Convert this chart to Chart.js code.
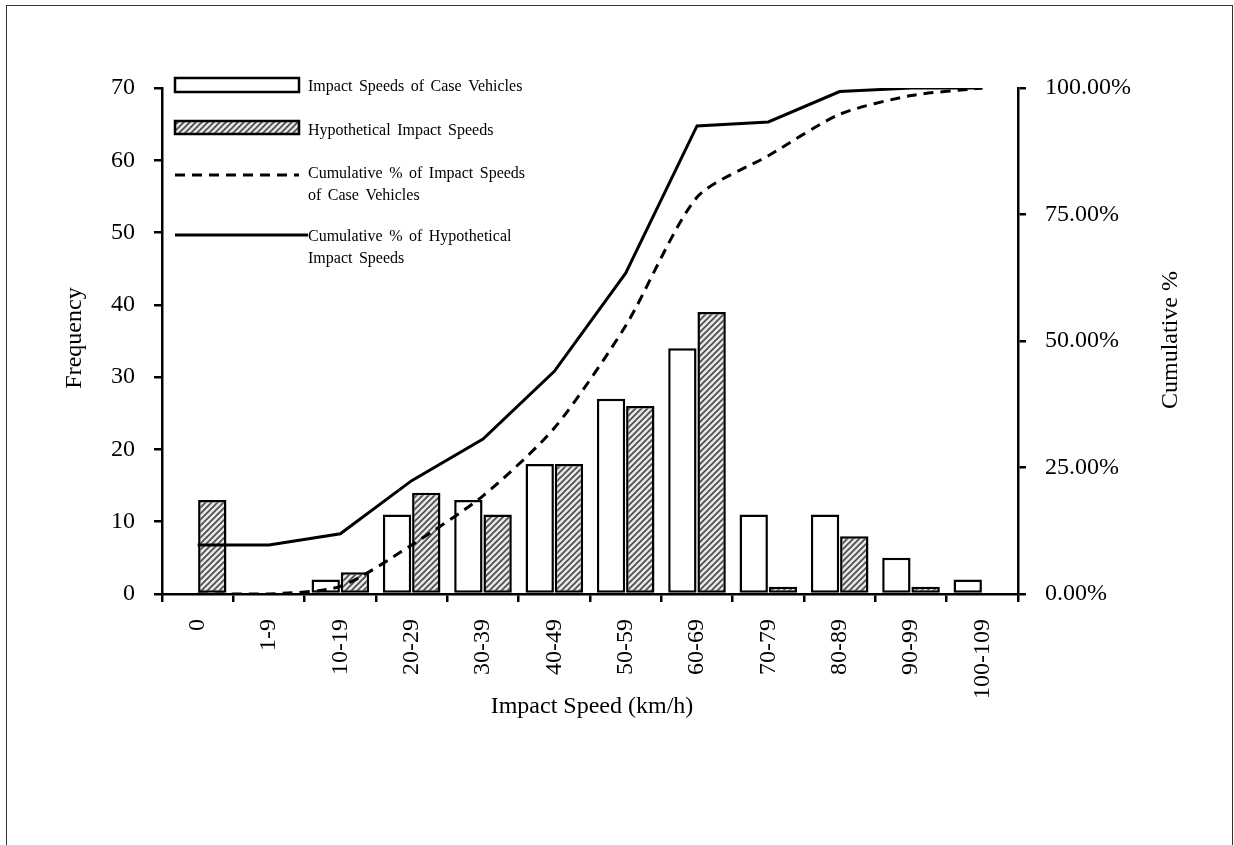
<!DOCTYPE html>
<html lang="en">
<head>
    <meta charset="UTF-8">
    <title>Impact Speeds</title>
    <script src="https://cdn.jsdelivr.net/npm/chart.js"></script>
    <style>
        body { margin: 0; background: #fff; }
        .wrap { position: relative; width: 1234px; height: 845px; overflow: hidden; }
        .frame { position: absolute; left: 6px; top: 5px; width: 1225px; height: 900px;
                 border: 1.5px solid #333; border-bottom: none; pointer-events: none; }
    </style>
</head>
<body>
    <div class="wrap">
        <canvas id="chart" width="1234" height="845"></canvas>
        <div class="frame"></div>
    </div>

    <script>
        const speedBands = ['0', '1-9', '10-19', '20-29', '30-39', '40-49', '50-59', '60-69', '70-79', '80-89', '90-99', '100-109'];
        const caseFreq = [0, 0, 2, 11, 13, 18, 27, 34, 11, 11, 5, 2];
        const hypFreq = [13, 0, 3, 14, 11, 18, 26, 39, 1, 8, 1, 0];
        // cumulative %
        const caseCum = [0, 0, 1.5, 9.7, 19.4, 32.8, 53.0, 78.4, 86.6, 94.8, 98.5, 100];
        const hypCum = [9.7, 9.7, 11.9, 22.4, 30.6, 44.0, 63.4, 92.5, 93.3, 99.3, 100, 100];

        const FONT = '"Liberation Serif", "Times New Roman", serif';

        function makeHatch() {
            const c = document.createElement('canvas');
            c.width = 6; c.height = 6;
            const g = c.getContext('2d');
            g.fillStyle = '#e6e6e6';
            g.fillRect(0, 0, 6, 6);
            g.strokeStyle = '#4a4a4a';
            g.lineWidth = 1.6;
            g.beginPath();
            g.moveTo(0, 6); g.lineTo(6, 0);
            g.moveTo(-3, 3); g.lineTo(3, -3);
            g.moveTo(3, 9); g.lineTo(9, 3);
            g.stroke();
            return g.createPattern(c, 'repeat');
        }
        const hatch = makeHatch();

        // axis titles + legend drawn by hand (legend sits inside the plot)
        const extras = {
            id: 'extras',
            afterDraw(chart) {
                const ctx = chart.ctx;
                const a = chart.chartArea;
                ctx.save();
                ctx.fillStyle = '#000';
                ctx.font = '24px ' + FONT;
                ctx.textAlign = 'center';
                ctx.textBaseline = 'middle';
                ctx.fillText('Impact Speed (km/h)', (a.left + a.right) / 2 + 2, 707);

                ctx.save();
                ctx.translate(75, 338);
                ctx.rotate(-Math.PI / 2);
                ctx.fillText('Frequency', 0, 0);
                ctx.restore();

                ctx.save();
                ctx.translate(1171, 340);
                ctx.rotate(-Math.PI / 2);
                ctx.fillText('Cumulative %', 0, 0);
                ctx.restore();

                // legend
                const x0 = a.left + 13, x1 = a.left + 137, tx = a.left + 146;
                ctx.lineWidth = 2.5;
                ctx.strokeStyle = '#000';
                ctx.fillStyle = '#fff';
                ctx.fillRect(x0, a.top - 10, x1 - x0, 14);
                ctx.strokeRect(x0, a.top - 10, x1 - x0, 14);
                ctx.fillStyle = hatch;
                ctx.fillRect(x0, a.top + 33, x1 - x0, 13);
                ctx.strokeRect(x0, a.top + 33, x1 - x0, 13);

                ctx.lineWidth = 3;
                ctx.setLineDash([10, 7]);
                ctx.beginPath();
                ctx.moveTo(x0, a.top + 87); ctx.lineTo(x1, a.top + 87);
                ctx.stroke();
                ctx.setLineDash([]);
                ctx.beginPath();
                ctx.moveTo(x0, a.top + 147); ctx.lineTo(tx, a.top + 147);
                ctx.stroke();

                ctx.fillStyle = '#000';
                ctx.font = '16px ' + FONT;
                ctx.wordSpacing = '2.5px';
                ctx.textAlign = 'left';
                ctx.fillText('Impact Speeds of Case Vehicles', tx, a.top - 1);
                ctx.fillText('Hypothetical Impact Speeds', tx, a.top + 43);
                ctx.fillText('Cumulative % of Impact Speeds', tx, a.top + 86);
                ctx.fillText('of Case Vehicles', tx, a.top + 108);
                ctx.fillText('Cumulative % of Hypothetical', tx, a.top + 149);
                ctx.fillText('Impact Speeds', tx, a.top + 171);
                ctx.restore();
            }
        };

        const tickFont = { family: FONT, size: 24 };

        new Chart(document.getElementById('chart'), {
            type: 'bar',
            data: {
                labels: speedBands,
                datasets: [
                    {
                        type: 'line',
                        label: 'Cumulative % of Impact Speeds of Case Vehicles',
                        data: caseCum,
                        yAxisID: 'yPct',
                        borderColor: '#000',
                        borderWidth: 3,
                        borderDash: [10, 7],
                        tension: 0.25,
                        pointRadius: 0,
                        fill: false,
                        order: 0
                    },
                    {
                        type: 'line',
                        label: 'Cumulative % of Hypothetical Impact Speeds',
                        data: hypCum,
                        yAxisID: 'yPct',
                        borderColor: '#000',
                        borderWidth: 3,
                        tension: 0,
                        pointRadius: 0,
                        fill: false,
                        order: 0
                    },
                    {
                        label: 'Impact Speeds of Case Vehicles',
                        data: caseFreq,
                        yAxisID: 'y',
                        backgroundColor: '#fff',
                        borderColor: '#000',
                        borderWidth: 2.5,
                        borderSkipped: false,
                        categoryPercentage: 0.82,
                        barPercentage: 0.97,
                        order: 1
                    },
                    {
                        label: 'Hypothetical Impact Speeds',
                        data: hypFreq,
                        yAxisID: 'y',
                        backgroundColor: hatch,
                        borderColor: '#000',
                        borderWidth: 2.5,
                        borderSkipped: false,
                        categoryPercentage: 0.82,
                        barPercentage: 0.97,
                        order: 1
                    }
                ]
            },
            options: {
                responsive: false,
                animation: false,
                layout: { padding: { top: 88, left: 0, right: 0, bottom: 0 } },
                plugins: {
                    legend: { display: false },
                    tooltip: { enabled: false }
                },
                scales: {
                    x: {
                        grid: { drawOnChartArea: false, tickLength: 8, color: '#000', lineWidth: 2.5 },
                        border: { color: '#000', width: 2.5 },
                        ticks: { color: '#000', font: tickFont, minRotation: 90, maxRotation: 90, padding: 17, autoSkip: false },
                        afterFit(s) { s.height = 251; }
                    },
                    y: {
                        position: 'left',
                        min: 0, max: 70,
                        grid: { drawOnChartArea: false, tickLength: 8, color: '#000', lineWidth: 2.5 },
                        border: { color: '#000', width: 2.5 },
                        ticks: { color: '#000', font: tickFont, stepSize: 10, padding: 19 },
                        afterFit(s) { s.width = 162; }
                    },
                    yPct: {
                        position: 'right',
                        min: 0, max: 100,
                        grid: { drawOnChartArea: false, tickLength: 8, color: '#000', lineWidth: 2.5 },
                        border: { color: '#000', width: 2.5 },
                        ticks: {
                            color: '#000', font: tickFont, stepSize: 25, padding: 19,
                            callback: v => v.toFixed(2) + '%'
                        },
                        afterFit(s) { s.width = 216; }
                    }
                }
            },
            plugins: [extras]
        });
    </script>
</body>
</html>
